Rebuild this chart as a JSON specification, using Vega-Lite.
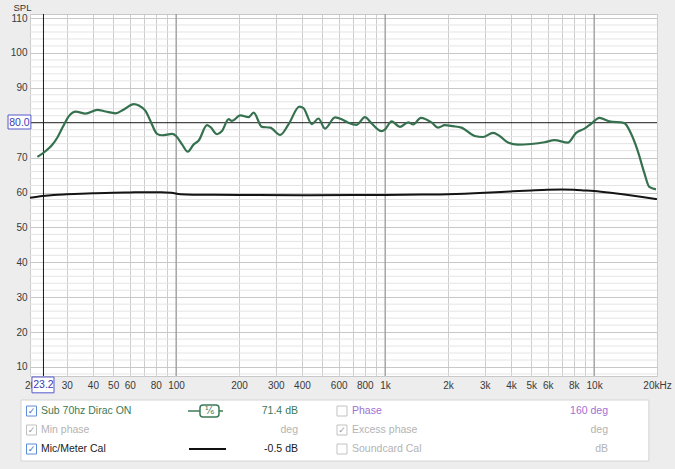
{
  "$schema": "https://vega.github.io/schema/vega-lite/v6.json",
  "background": "#ededed",
  "padding": {"left": 7, "top": 1, "right": 5, "bottom": 11},
  "config": {"font": "Liberation Sans", "view": {"stroke": null}, "concat": {"spacing": 5}},
  "datasets": {
    "sub": [
      {"f": 21.7, "db": 70.2}, {"f": 23.8, "db": 71.9}, {"f": 25.5, "db": 73.6}, {"f": 27.0, "db": 75.7},
      {"f": 28.6, "db": 78.6}, {"f": 30.7, "db": 81.9}, {"f": 33.1, "db": 83.2}, {"f": 36.9, "db": 82.6},
      {"f": 42.0, "db": 83.7}, {"f": 46.0, "db": 83.2}, {"f": 51.3, "db": 82.7}, {"f": 56.3, "db": 83.8},
      {"f": 62.8, "db": 85.3}, {"f": 66.4, "db": 84.9}, {"f": 71.4, "db": 83.4}, {"f": 75.4, "db": 80.5},
      {"f": 81.1, "db": 76.8}, {"f": 85.7, "db": 76.4}, {"f": 95.7, "db": 76.8}, {"f": 100, "db": 76.2},
      {"f": 106.8, "db": 73.8}, {"f": 113.7, "db": 71.7}, {"f": 121.5, "db": 73.8}, {"f": 128.3, "db": 74.9},
      {"f": 140.6, "db": 79.3}, {"f": 145.8, "db": 78.8}, {"f": 157, "db": 76.7}, {"f": 165.8, "db": 77.6},
      {"f": 178.4, "db": 81.0}, {"f": 185, "db": 80.5}, {"f": 202.8, "db": 82.1}, {"f": 222.3, "db": 81.6},
      {"f": 235, "db": 82.9}, {"f": 257.4, "db": 78.8}, {"f": 282, "db": 78.6}, {"f": 314.7, "db": 76.5},
      {"f": 345, "db": 79.5}, {"f": 389, "db": 84.6}, {"f": 407, "db": 84.2}, {"f": 446, "db": 79.6},
      {"f": 480, "db": 81.2}, {"f": 516, "db": 78.3}, {"f": 576, "db": 81.5}, {"f": 620, "db": 81.0},
      {"f": 667, "db": 80.0}, {"f": 731, "db": 79.4}, {"f": 801, "db": 81.6}, {"f": 862, "db": 79.8},
      {"f": 962, "db": 77.6}, {"f": 1000, "db": 78.1}, {"f": 1074, "db": 80.4}, {"f": 1177, "db": 78.8},
      {"f": 1290, "db": 80.1}, {"f": 1363, "db": 79.5}, {"f": 1483, "db": 81.4}, {"f": 1667, "db": 80.1},
      {"f": 1795, "db": 78.6}, {"f": 1930, "db": 79.3}, {"f": 2116, "db": 79.0}, {"f": 2318, "db": 78.6},
      {"f": 2684, "db": 76.2}, {"f": 2942, "db": 75.9}, {"f": 3285, "db": 77.1}, {"f": 3532, "db": 76.2},
      {"f": 3873, "db": 74.3}, {"f": 4323, "db": 73.7}, {"f": 5004, "db": 73.9}, {"f": 5794, "db": 74.4},
      {"f": 6465, "db": 75.0}, {"f": 7491, "db": 74.3}, {"f": 8204, "db": 77.1}, {"f": 8995, "db": 78.3},
      {"f": 9685, "db": 79.7}, {"f": 10600, "db": 81.4}, {"f": 11830, "db": 80.4}, {"f": 13950, "db": 79.9},
      {"f": 15020, "db": 76.9}, {"f": 16160, "db": 72.0}, {"f": 17390, "db": 65.6}, {"f": 18370, "db": 61.6},
      {"f": 19770, "db": 60.9}
    ],
    "cal": [
      {"f": 20, "db": 58.5}, {"f": 23, "db": 59.0}, {"f": 26, "db": 59.3}, {"f": 30, "db": 59.5},
      {"f": 40, "db": 59.8}, {"f": 50, "db": 59.9}, {"f": 60, "db": 60.0}, {"f": 70, "db": 60.1},
      {"f": 85, "db": 60.1}, {"f": 95, "db": 59.9}, {"f": 105, "db": 59.5}, {"f": 120, "db": 59.35},
      {"f": 200, "db": 59.3}, {"f": 400, "db": 59.2}, {"f": 700, "db": 59.25}, {"f": 1000, "db": 59.3},
      {"f": 1500, "db": 59.4}, {"f": 2000, "db": 59.5}, {"f": 3000, "db": 59.9}, {"f": 4000, "db": 60.3},
      {"f": 5000, "db": 60.6}, {"f": 6000, "db": 60.8}, {"f": 7000, "db": 60.85}, {"f": 8000, "db": 60.8},
      {"f": 9000, "db": 60.6}, {"f": 10000, "db": 60.4}, {"f": 12000, "db": 59.9}, {"f": 14000, "db": 59.4},
      {"f": 17000, "db": 58.7}, {"f": 20000, "db": 58.1}
    ],
    "decades": [{"f": 100}, {"f": 1000}, {"f": 10000}],
    "minor": [
      {"db": 8}, {"db": 12}, {"db": 14}, {"db": 16}, {"db": 18}, {"db": 22}, {"db": 24}, {"db": 26}, {"db": 28},
      {"db": 32}, {"db": 34}, {"db": 36}, {"db": 38}, {"db": 42}, {"db": 44}, {"db": 46}, {"db": 48},
      {"db": 52}, {"db": 54}, {"db": 56}, {"db": 58}, {"db": 62}, {"db": 64}, {"db": 66}, {"db": 68},
      {"db": 72}, {"db": 74}, {"db": 76}, {"db": 78}, {"db": 82}, {"db": 84}, {"db": 86}, {"db": 88},
      {"db": 92}, {"db": 94}, {"db": 96}, {"db": 98}, {"db": 102}, {"db": 104}, {"db": 106}, {"db": 108}
    ],
    "cursor": [
      {"label": "80.0", "f": 17.8, "db": 80, "f1": 15.7, "f2": 20.2, "d1": 78.2, "d2": 82.2},
      {"label": "23.2", "f": 23.2, "db": 4.84, "f1": 20.44, "f2": 26.05, "d1": 2.6, "d2": 7.13}
    ],
    "legend": [
      {"row": 1, "side": "A", "name": "Sub 70hz Dirac ON", "value": "71.4 dB", "state": "sub", "box": "active", "checked": true},
      {"row": 2, "side": "A", "name": "Min phase", "value": "deg", "state": "dis", "box": "inactive", "checked": true},
      {"row": 3, "side": "A", "name": "Mic/Meter Cal", "value": "-0.5 dB", "state": "cal", "box": "active", "checked": true},
      {"row": 1, "side": "B", "name": "Phase", "value": "160 deg", "state": "phase", "box": "inactive", "checked": false},
      {"row": 2, "side": "B", "name": "Excess phase", "value": "deg", "state": "dis", "box": "inactive", "checked": true},
      {"row": 3, "side": "B", "name": "Soundcard Cal", "value": "dB", "state": "dis", "box": "inactive", "checked": false}
    ]
  },
  "vconcat": [
    {
      "width": 627,
      "height": 362,
      "view": {"fill": "#ffffff", "stroke": "#c8c8c8"},
      "layer": [
        {
          "data": {"name": "minor"},
          "mark": {"type": "rule", "color": "#e4e4e4", "strokeWidth": 1},
          "encoding": {
            "y": {
              "field": "db", "type": "quantitative",
              "scale": {"domain": [7.42, 111.15], "zero": false, "nice": false},
              "axis": {
                "values": [10, 20, 30, 40, 50, 60, 70, 90, 100, 110],
                "ticks": false, "domain": false, "labelPadding": 3, "labelFontSize": 10, "labelColor": "#3a3a3a",
                "labelOverlap": false, "labelFlush": false, "labelBound": false,
                "grid": true, "gridOpacity": 1, "gridWidth": 1, "gridColor": "#c8c8c8",
                "title": "SPL", "titleAngle": 0, "titleAlign": "left", "titleBaseline": "alphabetic",
                "titleX": -17, "titleY": -4, "titleFontSize": 9.5, "titleFontWeight": "normal", "titleColor": "#333333"
              }
            }
          }
        },
        {
          "data": {"name": "decades"},
          "mark": {"type": "rule", "color": "#8c8c8c", "strokeWidth": 1},
          "encoding": {
            "x": {
              "field": "f", "type": "quantitative",
              "scale": {"type": "log", "domain": [20, 20000], "nice": false},
              "axis": {
                "values": [20,30,40,50,60,70,80,90,100,200,300,400,500,600,700,800,900,1000,2000,3000,4000,5000,6000,7000,8000,9000,10000,20000],
                "labelExpr": "datum.value == 20000 ? '20kHz' : (datum.value == 70 || datum.value == 90 || datum.value == 500 || datum.value == 700 || datum.value == 900 || datum.value == 7000 || datum.value == 9000) ? '' : (datum.value >= 1000 ? (datum.value / 1000) + 'k' : '' + datum.value)",
                "ticks": false, "domain": false, "labelPadding": 4, "labelFontSize": 10, "labelColor": "#3a3a3a",
                "labelOverlap": false, "labelFlush": false, "title": null,
                "grid": true, "gridOpacity": 1, "gridWidth": 1, "gridColor": "#cdcdcd"
              }
            }
          }
        },
        {
          "data": {"values": [{}]},
          "mark": {"type": "rule", "color": "#1a1a1a", "strokeWidth": 1},
          "encoding": {
            "y": {"datum": 80, "type": "quantitative", "scale": {"domain": [7.42, 111.15], "zero": false, "nice": false}}
          }
        },
        {
          "data": {"values": [{}]},
          "mark": {"type": "rule", "color": "#1a1a1a", "strokeWidth": 1},
          "encoding": {
            "x": {"datum": 23.2, "type": "quantitative", "scale": {"type": "log", "domain": [20, 20000], "nice": false}}
          }
        },
        {
          "data": {"name": "cal"},
          "mark": {"type": "line", "color": "#141414", "strokeWidth": 2, "interpolate": "monotone"},
          "encoding": {
            "x": {"field": "f", "type": "quantitative", "scale": {"type": "log", "domain": [20, 20000], "nice": false}},
            "y": {"field": "db", "type": "quantitative", "scale": {"domain": [7.42, 111.15], "zero": false, "nice": false}}
          }
        },
        {
          "data": {"name": "sub"},
          "mark": {"type": "line", "color": "#36714f", "strokeWidth": 2.2, "interpolate": "monotone"},
          "encoding": {
            "x": {"field": "f", "type": "quantitative", "scale": {"type": "log", "domain": [20, 20000], "nice": false}},
            "y": {"field": "db", "type": "quantitative", "scale": {"domain": [7.42, 111.15], "zero": false, "nice": false}}
          }
        },
        {
          "data": {"name": "cursor"},
          "mark": {"type": "rect", "fill": "#ffffff", "stroke": "#5858cc", "strokeWidth": 1},
          "encoding": {
            "x": {"field": "f1", "type": "quantitative", "scale": {"type": "log", "domain": [20, 20000], "nice": false}},
            "x2": {"field": "f2"},
            "y": {"field": "d1", "type": "quantitative", "scale": {"domain": [7.42, 111.15], "zero": false, "nice": false}},
            "y2": {"field": "d2"}
          }
        },
        {
          "data": {"name": "cursor"},
          "mark": {"type": "text", "color": "#3b3bb5", "fontSize": 10.5, "align": "center", "baseline": "middle"},
          "encoding": {
            "x": {"field": "f", "type": "quantitative", "scale": {"type": "log", "domain": [20, 20000], "nice": false}},
            "y": {"field": "db", "type": "quantitative", "scale": {"domain": [7.42, 111.15], "zero": false, "nice": false}},
            "text": {"field": "label"}
          }
        }
      ]
    },
    {
      "width": 627,
      "height": 61,
      "layer": [
        {
          "data": {"values": [{}]},
          "mark": {"type": "rect", "fill": "#ffffff", "stroke": "#d4d4d4", "strokeWidth": 1},
          "encoding": {
            "x": {"datum": -1.44, "type": "quantitative", "scale": {"domain": [0, 100], "nice": false, "zero": false}, "axis": null},
            "x2": {"datum": 98.7},
            "y": {"datum": 0.42, "type": "quantitative", "scale": {"domain": [0.42, 3.63], "nice": false, "zero": false, "reverse": true}, "axis": null},
            "y2": {"datum": 3.63}
          }
        },
        {
          "data": {"name": "legend"},
          "transform": [{"filter": "datum.side == 'A'"}],
          "mark": {"type": "point", "shape": "square", "size": 100, "filled": false, "fill": "#ffffff", "fillOpacity": 1, "strokeWidth": 1, "opacity": 1},
          "encoding": {
            "x": {"datum": 0.24, "type": "quantitative", "scale": {"domain": [0, 100], "nice": false, "zero": false}, "axis": null},
            "y": {"field": "row", "type": "quantitative", "scale": {"domain": [0.42, 3.63], "nice": false, "zero": false, "reverse": true}, "axis": null},
            "stroke": {"field": "box", "type": "nominal", "scale": {"domain": ["active", "inactive"], "range": ["#5b8dd9", "#c2c2c2"]}, "legend": null}
          }
        },
        {
          "data": {"name": "legend"},
          "transform": [{"filter": "datum.side == 'B'"}],
          "mark": {"type": "point", "shape": "square", "size": 100, "filled": false, "fill": "#ffffff", "fillOpacity": 1, "strokeWidth": 1, "opacity": 1},
          "encoding": {
            "x": {"datum": 49.76, "type": "quantitative", "scale": {"domain": [0, 100], "nice": false, "zero": false}, "axis": null},
            "y": {"field": "row", "type": "quantitative", "scale": {"domain": [0.42, 3.63], "nice": false, "zero": false, "reverse": true}, "axis": null},
            "stroke": {"field": "box", "type": "nominal", "scale": {"domain": ["active", "inactive"], "range": ["#5b8dd9", "#c2c2c2"]}, "legend": null}
          }
        },
        {
          "data": {"name": "legend"},
          "transform": [{"filter": "datum.side == 'A' && datum.checked"}],
          "mark": {"type": "text", "text": "✓", "font": "DejaVu Sans", "fontSize": 9, "align": "center", "baseline": "middle"},
          "encoding": {
            "x": {"datum": 0.24, "type": "quantitative", "scale": {"domain": [0, 100], "nice": false, "zero": false}, "axis": null},
            "y": {"field": "row", "type": "quantitative", "scale": {"domain": [0.42, 3.63], "nice": false, "zero": false, "reverse": true}, "axis": null},
            "color": {"field": "box", "type": "nominal", "scale": {"domain": ["active", "inactive"], "range": ["#3f6fc4", "#9a9a9a"]}, "legend": null}
          }
        },
        {
          "data": {"name": "legend"},
          "transform": [{"filter": "datum.side == 'B' && datum.checked"}],
          "mark": {"type": "text", "text": "✓", "font": "DejaVu Sans", "fontSize": 9, "align": "center", "baseline": "middle"},
          "encoding": {
            "x": {"datum": 49.76, "type": "quantitative", "scale": {"domain": [0, 100], "nice": false, "zero": false}, "axis": null},
            "y": {"field": "row", "type": "quantitative", "scale": {"domain": [0.42, 3.63], "nice": false, "zero": false, "reverse": true}, "axis": null},
            "color": {"field": "box", "type": "nominal", "scale": {"domain": ["active", "inactive"], "range": ["#3f6fc4", "#9a9a9a"]}, "legend": null}
          }
        },
        {
          "data": {"name": "legend"},
          "transform": [{"filter": "datum.side == 'A'"}],
          "mark": {"type": "text", "fontSize": 10.5, "align": "left", "baseline": "middle"},
          "encoding": {
            "x": {"datum": 1.75, "type": "quantitative", "scale": {"domain": [0, 100], "nice": false, "zero": false}, "axis": null},
            "y": {"field": "row", "type": "quantitative", "scale": {"domain": [0.42, 3.63], "nice": false, "zero": false, "reverse": true}, "axis": null},
            "text": {"field": "name"},
            "fill": {"field": "state", "type": "nominal", "scale": {"domain": ["sub", "cal", "phase", "dis"], "range": ["#3b7a57", "#1a1a1a", "#a070d4", "#b3b3b3"]}, "legend": null}
          }
        },
        {
          "data": {"name": "legend"},
          "transform": [{"filter": "datum.side == 'A'"}],
          "mark": {"type": "text", "fontSize": 10.5, "align": "right", "baseline": "middle"},
          "encoding": {
            "x": {"datum": 42.74, "type": "quantitative", "scale": {"domain": [0, 100], "nice": false, "zero": false}, "axis": null},
            "y": {"field": "row", "type": "quantitative", "scale": {"domain": [0.42, 3.63], "nice": false, "zero": false, "reverse": true}, "axis": null},
            "text": {"field": "value"},
            "fill": {"field": "state", "type": "nominal", "scale": {"domain": ["sub", "cal", "phase", "dis"], "range": ["#3b7a57", "#1a1a1a", "#a070d4", "#b3b3b3"]}, "legend": null}
          }
        },
        {
          "data": {"name": "legend"},
          "transform": [{"filter": "datum.side == 'B'"}],
          "mark": {"type": "text", "fontSize": 10.5, "align": "left", "baseline": "middle"},
          "encoding": {
            "x": {"datum": 51.36, "type": "quantitative", "scale": {"domain": [0, 100], "nice": false, "zero": false}, "axis": null},
            "y": {"field": "row", "type": "quantitative", "scale": {"domain": [0.42, 3.63], "nice": false, "zero": false, "reverse": true}, "axis": null},
            "text": {"field": "name"},
            "fill": {"field": "state", "type": "nominal", "scale": {"domain": ["sub", "cal", "phase", "dis"], "range": ["#3b7a57", "#1a1a1a", "#a070d4", "#b3b3b3"]}, "legend": null}
          }
        },
        {
          "data": {"name": "legend"},
          "transform": [{"filter": "datum.side == 'B'"}],
          "mark": {"type": "text", "fontSize": 10.5, "align": "right", "baseline": "middle"},
          "encoding": {
            "x": {"datum": 92.19, "type": "quantitative", "scale": {"domain": [0, 100], "nice": false, "zero": false}, "axis": null},
            "y": {"field": "row", "type": "quantitative", "scale": {"domain": [0.42, 3.63], "nice": false, "zero": false, "reverse": true}, "axis": null},
            "text": {"field": "value"},
            "fill": {"field": "state", "type": "nominal", "scale": {"domain": ["sub", "cal", "phase", "dis"], "range": ["#3b7a57", "#1a1a1a", "#a070d4", "#b3b3b3"]}, "legend": null}
          }
        },
        {
          "data": {"values": [{}]},
          "mark": {"type": "rule", "color": "#3b7a57", "strokeWidth": 1.5},
          "encoding": {
            "x": {"datum": 25.2, "type": "quantitative", "scale": {"domain": [0, 100], "nice": false, "zero": false}, "axis": null},
            "x2": {"datum": 30.78},
            "y": {"datum": 1, "type": "quantitative", "scale": {"domain": [0.42, 3.63], "nice": false, "zero": false, "reverse": true}, "axis": null}
          }
        },
        {
          "data": {"values": [{}]},
          "mark": {"type": "rect", "fill": "#ffffff", "stroke": "#3b7a57", "strokeWidth": 1.5, "cornerRadius": 3},
          "encoding": {
            "x": {"datum": 27.11, "type": "quantitative", "scale": {"domain": [0, 100], "nice": false, "zero": false}, "axis": null},
            "x2": {"datum": 30.14},
            "y": {"datum": 0.68, "type": "quantitative", "scale": {"domain": [0.42, 3.63], "nice": false, "zero": false, "reverse": true}, "axis": null},
            "y2": {"datum": 1.32}
          }
        },
        {
          "data": {"values": [{}]},
          "mark": {"type": "text", "text": "¹⁄₆", "font": "DejaVu Sans", "fontSize": 10, "color": "#3b7a57", "align": "center", "baseline": "middle"},
          "encoding": {
            "x": {"datum": 28.63, "type": "quantitative", "scale": {"domain": [0, 100], "nice": false, "zero": false}, "axis": null},
            "y": {"datum": 1, "type": "quantitative", "scale": {"domain": [0.42, 3.63], "nice": false, "zero": false, "reverse": true}, "axis": null}
          }
        },
        {
          "data": {"values": [{}]},
          "mark": {"type": "rule", "color": "#111111", "strokeWidth": 2},
          "encoding": {
            "x": {"datum": 25.36, "type": "quantitative", "scale": {"domain": [0, 100], "nice": false, "zero": false}, "axis": null},
            "x2": {"datum": 31.26},
            "y": {"datum": 3, "type": "quantitative", "scale": {"domain": [0.42, 3.63], "nice": false, "zero": false, "reverse": true}, "axis": null}
          }
        }
      ]
    }
  ]
}
